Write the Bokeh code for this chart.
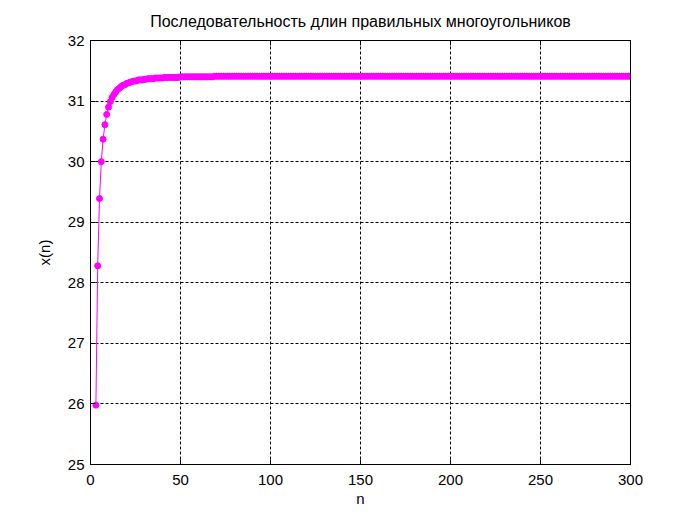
from bokeh.plotting import figure
from bokeh.models import Range1d, LinearAxis, FixedTicker, ColumnDataSource
from bokeh.embed import file_html
from bokeh.resources import INLINE

title_text = "Последовательность длин правильных многоугольников"
x_label = "n"
y_label = "x(n)"
x_ticks = [0, 50, 100, 150, 200, 250, 300]
y_ticks = [25, 26, 27, 28, 29, 30, 31, 32]

n_first = 3
values = [
    25.98, 28.28, 29.39, 30.00, 30.37, 30.61, 30.78, 30.90, 30.99, 31.06,  # 3-12
    31.11, 31.15, 31.19, 31.21, 31.24, 31.26, 31.27, 31.29, 31.30, 31.31,  # 13-22
    31.32, 31.33, 31.33, 31.34, 31.35, 31.35, 31.35, 31.36, 31.36, 31.37,  # 23-32
    31.37, 31.37, 31.37, 31.38, 31.38, 31.38, 31.38, 31.38, 31.39, 31.39,  # 33-42
    31.39, 31.39, 31.39, 31.39, 31.39, 31.39, 31.39, 31.40, 31.40, 31.40,  # 43-52
    31.40, 31.40, 31.40, 31.40, 31.40, 31.40, 31.40, 31.40, 31.40, 31.40,  # 53-62
    31.40, 31.40, 31.40, 31.40, 31.40, 31.40, 31.41, 31.41, 31.41, 31.41,  # 63-72
    31.41, 31.41, 31.41, 31.41, 31.41, 31.41, 31.41, 31.41, 31.41, 31.41,  # 73-82
    31.41, 31.41, 31.41, 31.41, 31.41, 31.41, 31.41, 31.41, 31.41, 31.41,  # 83-92
    31.41, 31.41, 31.41, 31.41, 31.41, 31.41, 31.41, 31.41, 31.41, 31.41,  # 93-102
    31.41, 31.41, 31.41, 31.41, 31.41, 31.41, 31.41, 31.41, 31.41, 31.41,  # 103-112
    31.41, 31.41, 31.41, 31.41, 31.41, 31.41, 31.41, 31.41, 31.41, 31.41,  # 113-122
    31.41, 31.41, 31.41, 31.41, 31.41, 31.41, 31.41, 31.41, 31.41, 31.41,  # 123-132
    31.41, 31.41, 31.41, 31.41, 31.41, 31.41, 31.41, 31.41, 31.41, 31.41,  # 133-142
    31.41, 31.41, 31.41, 31.41, 31.41, 31.41, 31.41, 31.41, 31.41, 31.41,  # 143-152
    31.41, 31.41, 31.41, 31.41, 31.41, 31.41, 31.41, 31.41, 31.41, 31.41,  # 153-162
    31.41, 31.41, 31.41, 31.41, 31.41, 31.41, 31.41, 31.41, 31.41, 31.41,  # 163-172
    31.41, 31.41, 31.41, 31.41, 31.41, 31.41, 31.41, 31.41, 31.41, 31.41,  # 173-182
    31.41, 31.41, 31.41, 31.41, 31.41, 31.41, 31.41, 31.41, 31.41, 31.41,  # 183-192
    31.41, 31.41, 31.41, 31.41, 31.41, 31.41, 31.41, 31.41, 31.41, 31.41,  # 193-202
    31.41, 31.41, 31.41, 31.41, 31.41, 31.41, 31.41, 31.41, 31.41, 31.41,  # 203-212
    31.41, 31.41, 31.41, 31.41, 31.41, 31.41, 31.41, 31.41, 31.41, 31.41,  # 213-222
    31.41, 31.41, 31.41, 31.41, 31.41, 31.41, 31.41, 31.41, 31.41, 31.41,  # 223-232
    31.41, 31.41, 31.41, 31.41, 31.41, 31.41, 31.41, 31.41, 31.41, 31.41,  # 233-242
    31.41, 31.41, 31.41, 31.41, 31.41, 31.41, 31.41, 31.41, 31.41, 31.41,  # 243-252
    31.41, 31.41, 31.41, 31.41, 31.41, 31.41, 31.41, 31.41, 31.41, 31.41,  # 253-262
    31.41, 31.41, 31.41, 31.41, 31.41, 31.41, 31.41, 31.41, 31.41, 31.41,  # 263-272
    31.41, 31.41, 31.41, 31.41, 31.41, 31.41, 31.41, 31.41, 31.41, 31.41,  # 273-282
    31.41, 31.41, 31.41, 31.41, 31.41, 31.41, 31.41, 31.41, 31.41, 31.41,  # 283-292
    31.41, 31.41, 31.41, 31.41, 31.41, 31.41, 31.41, 31.41,                # 293-300
]
n_values = list(range(n_first, n_first + len(values)))

FONT = "Liberation Sans"
COLOR = "#ff00ff"

src = ColumnDataSource(data=dict(n=n_values, x=values))

p = figure(width=681, height=516, output_backend="svg", toolbar_location=None,
           x_range=Range1d(0, 300), y_range=Range1d(25, 32),
           min_border_left=90, min_border_right=51, min_border_top=40, min_border_bottom=52,
           background_fill_color="white", border_fill_color="white")

p.title.text = title_text
p.title.align = "center"
p.title.vertical_align = "top"
p.title.text_font = FONT
p.title.text_font_size = "16px"
p.title.text_font_style = "normal"
p.title.text_color = "black"
p.title.standoff = 18

p.outline_line_color = "black"
p.outline_line_width = 1

for ax in (p.xaxis[0], p.yaxis[0]):
    ax.major_label_text_font = FONT
    ax.major_label_text_font_size = "15px"
    ax.major_label_text_color = "black"
    ax.axis_label_text_font = FONT
    ax.axis_label_text_font_size = "15px"
    ax.axis_label_text_font_style = "normal"
    ax.axis_label_text_color = "black"
    ax.axis_line_color = "black"
    ax.major_tick_in = 5
    ax.major_tick_out = 0
    ax.minor_tick_line_color = None
    ax.major_tick_line_color = "black"

p.xaxis[0].ticker = FixedTicker(ticks=x_ticks)
p.yaxis[0].ticker = FixedTicker(ticks=y_ticks)
p.xaxis[0].axis_label = x_label
p.yaxis[0].axis_label = y_label
p.xaxis[0].major_label_standoff = 10
p.yaxis[0].major_label_standoff = 6
p.xaxis[0].axis_label_standoff = 2
p.yaxis[0].axis_label_standoff = 12

top = LinearAxis(ticker=FixedTicker(ticks=x_ticks),
                 major_label_overrides={t: "" for t in x_ticks},
                 major_tick_in=5, major_tick_out=0, minor_tick_line_color=None,
                 axis_line_color="black", major_label_standoff=0)
right = LinearAxis(ticker=FixedTicker(ticks=y_ticks),
                   major_label_overrides={t: "" for t in y_ticks},
                   major_tick_in=5, major_tick_out=0, minor_tick_line_color=None,
                   axis_line_color="black", major_label_standoff=0)
p.add_layout(top, "above")
p.add_layout(right, "right")

p.xgrid.ticker = FixedTicker(ticks=x_ticks)
p.ygrid.ticker = FixedTicker(ticks=y_ticks)
for g in (p.xgrid[0], p.ygrid[0]):
    g.grid_line_color = "black"
    g.grid_line_dash = "3 2"
    g.grid_line_width = 1
    g.grid_line_alpha = 1.0

p.line("n", "x", source=src, line_color=COLOR, line_width=1)
p.scatter("n", "x", source=src, marker="circle", size=6, fill_color=COLOR, line_color=COLOR)

open("out.html", "w").write(file_html(p, INLINE))
